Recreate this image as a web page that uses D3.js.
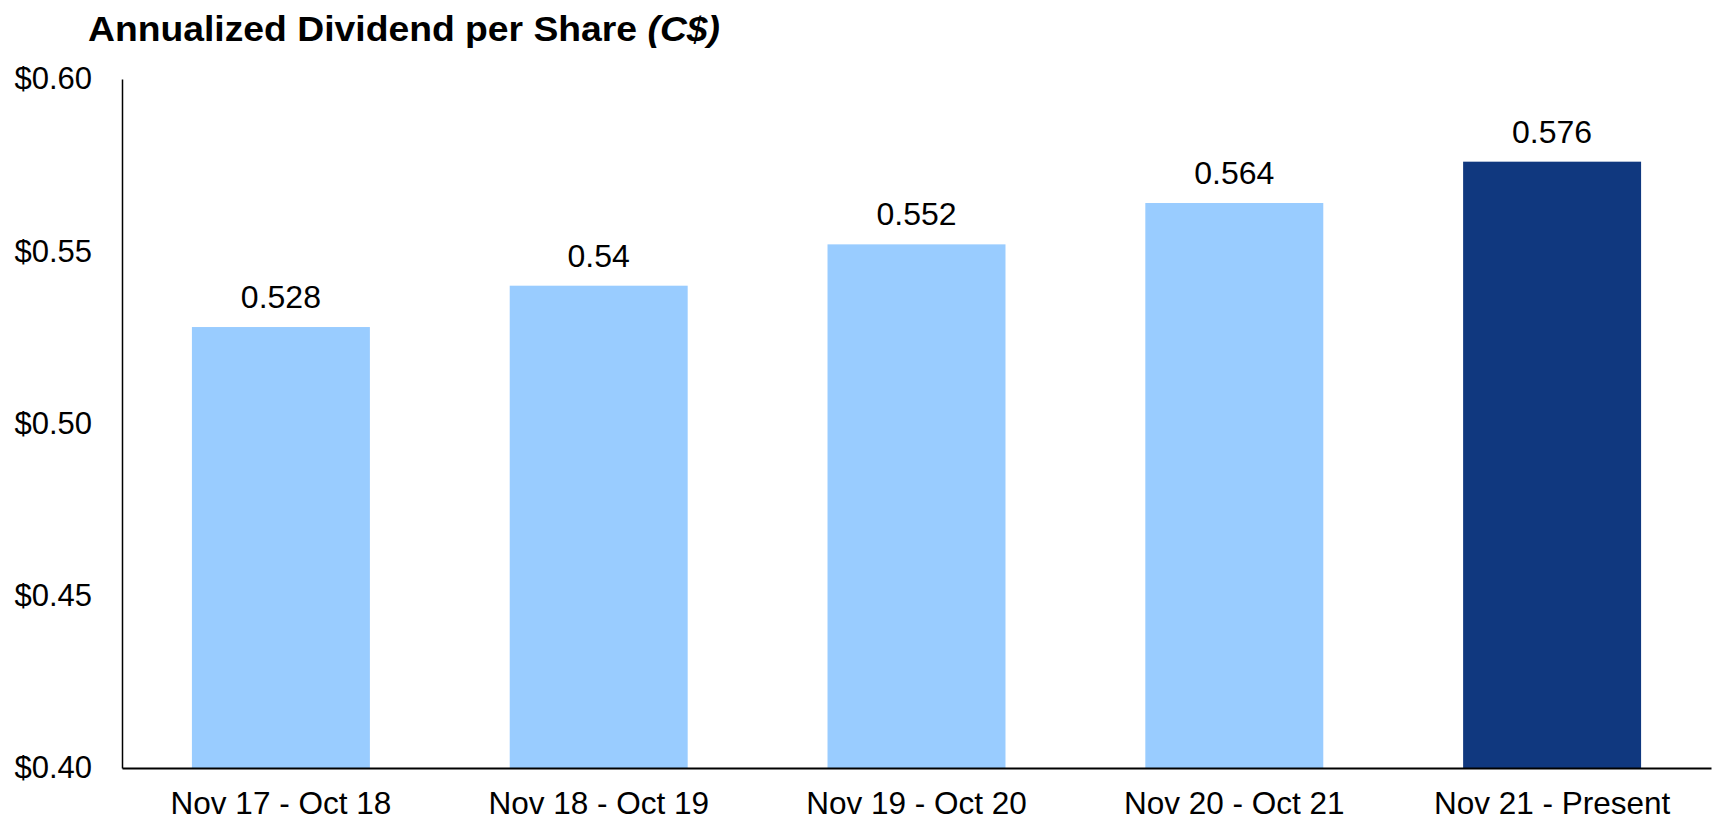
<!DOCTYPE html>
<html lang="en">
<head>
<meta charset="utf-8">
<script src="https://d3js.org/d3.v7.min.js"></script>
<style>
  body { margin: 0; background: #fff; }
  text { font-family: "Liberation Sans", Arial, sans-serif; }
</style>
</head>
<body>
<script>
// chart data
const periods = ["Nov 17 - Oct 18", "Nov 18 - Oct 19", "Nov 19 - Oct 20", "Nov 20 - Oct 21", "Nov 21 - Present"];
const dividends = [0.528, 0.54, 0.552, 0.564, 0.576];
const valueLabels = ["0.528", "0.54", "0.552", "0.564", "0.576"];
const yTicks = [0.40, 0.45, 0.50, 0.55, 0.60];

const width = 1717, height = 822;
const plotLeft = 122, plotRight = 1711, plotTop = 79, plotBottom = 768;

const svg = d3.select("body").append("svg")
  .attr("width", width)
  .attr("height", height);

const x = d3.scaleBand()
  .domain(periods)
  .range([plotLeft, plotRight])
  .paddingInner(0.44)
  .paddingOuter(0.22);

const y = d3.scaleLinear()
  .domain([0.40, 0.60])
  .range([plotBottom, plotTop]);

// title (narrow bold look of the original)
const title = svg.append("text")
  .attr("x", 88)
  .attr("y", 41)
  .attr("font-size", 35)
  .attr("font-weight", "bold")
  .attr("textLength", 632)
  .attr("lengthAdjust", "spacingAndGlyphs")
  .attr("fill", "#000");
title.append("tspan").text("Annualized Dividend per Share ");
title.append("tspan").attr("font-style", "italic").text("(C$)");

// bars
svg.selectAll("rect.bar")
  .data(dividends)
  .enter()
  .append("rect")
  .attr("class", "bar")
  .attr("x", (d, i) => x(periods[i]))
  .attr("width", x.bandwidth())
  .attr("y", d => y(d))
  .attr("height", d => y(0.40) - y(d))
  .attr("fill", (d, i) => i === periods.length - 1 ? "#10387F" : "#99CCFF");

// value labels
svg.selectAll("text.val")
  .data(dividends)
  .enter()
  .append("text")
  .attr("class", "val")
  .attr("x", (d, i) => x(periods[i]) + x.bandwidth() / 2)
  .attr("y", d => y(d) - 19)
  .attr("text-anchor", "middle")
  .attr("font-size", 32)
  .attr("fill", "#000")
  .text((d, i) => valueLabels[i]);

// y axis
const yAxis = svg.append("g")
  .attr("transform", `translate(${plotLeft},0)`)
  .call(d3.axisLeft(y).tickValues(yTicks).tickSize(0).tickPadding(30)
    .tickFormat(d => "$" + d3.format(".2f")(d)));
yAxis.select(".domain").attr("stroke", "#000").attr("stroke-width", 1.5);
yAxis.selectAll("text")
  .attr("font-size", 31)
  .attr("font-family", "Liberation Sans, Arial, sans-serif")
  .attr("fill", "#000");

// x axis
const xAxis = svg.append("g")
  .attr("transform", `translate(0,${plotBottom})`)
  .call(d3.axisBottom(x).tickSize(0).tickPadding(24));
xAxis.select(".domain").attr("stroke", "#000").attr("stroke-width", 2);
xAxis.selectAll("text")
  .attr("font-size", 31.5)
  .attr("font-family", "Liberation Sans, Arial, sans-serif")
  .attr("fill", "#000");
</script>
</body>
</html>
